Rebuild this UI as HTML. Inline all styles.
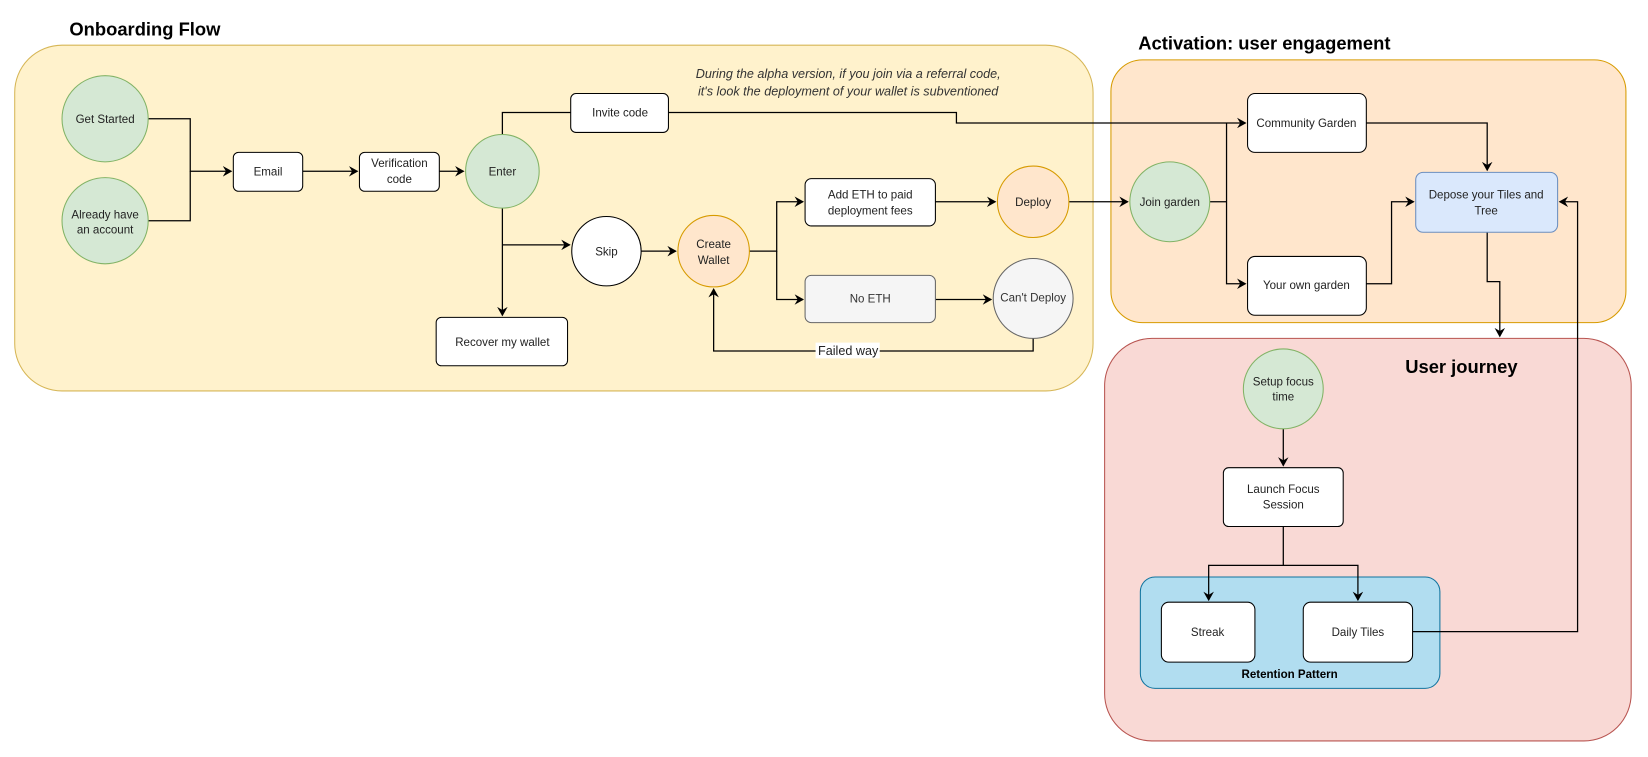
<!DOCTYPE html>
<html><head><meta charset="utf-8"><style>
html,body{margin:0;padding:0;background:#fff;}
svg{display:block;}
text{font-family:"Liberation Sans",Arial,sans-serif;font-size:11px;fill:#222;}
.t{font-size:17.5px;font-weight:bold;fill:#000;}
</style></head><body>
<svg width="1648" height="757" viewBox="0 0 1568 720.3" preserveAspectRatio="none" xmlns="http://www.w3.org/2000/svg">
<defs><marker id="a" markerWidth="10" markerHeight="10" refX="8" refY="5" orient="auto" markerUnits="userSpaceOnUse"><path d="M0,0 L9,5 L0,10 L3,5 Z" fill="#000"/></marker></defs>
<rect x="14" y="43" width="1026" height="329" rx="45" fill="#fff2cc" stroke="#d6b656"/>
<rect x="1057" y="57" width="490" height="250" rx="30" fill="#ffe6cc" stroke="#d79b00"/>
<rect x="1051" y="322" width="501" height="383" rx="45" fill="#f9d9d5" stroke="#b85450"/>
<rect x="1085" y="549" width="285" height="106" rx="14" fill="#b1ddf0" stroke="#10739e"/>
<text class="t" x="66" y="34">Onboarding Flow</text>
<text class="t" x="1083" y="47">Activation: user engagement</text>
<text class="t" x="1337" y="355">User journey</text>
<text x="1227" y="645" text-anchor="middle" style="font-weight:bold;fill:#000">Retention Pattern</text>
<text x="807" y="74" text-anchor="middle" font-style="italic" style="font-size:12px;fill:#333">During the alpha version, if you join via a referral code,</text>
<text x="807" y="91" text-anchor="middle" font-style="italic" style="font-size:12px;fill:#333">it's look the deployment of your wallet is subventioned</text>
<g fill="none" stroke="#000" stroke-width="1.2">
<path d="M141,113 H181 V163 H220" marker-end="url(#a)"/>
<path d="M141,210 H181 V163"/>
<path d="M288,163 H340" marker-end="url(#a)"/>
<path d="M418,163 H441" marker-end="url(#a)"/>
<path d="M478,128 V107 H543"/>
<path d="M636,107 H910 V117 H1185" marker-end="url(#a)"/>
<path d="M478,198 V300" marker-end="url(#a)"/>
<path d="M478,233 H542" marker-end="url(#a)"/>
<path d="M610,239 H643" marker-end="url(#a)"/>
<path d="M713,239 H739 V192 H764" marker-end="url(#a)"/>
<path d="M739,239 V285 H764" marker-end="url(#a)"/>
<path d="M890,192 H947" marker-end="url(#a)"/>
<path d="M890,285 H943" marker-end="url(#a)"/>
<path d="M983,321 V334 H679 V275" marker-end="url(#a)"/>
<path d="M1017,192 H1073" marker-end="url(#a)"/>
<path d="M1151,192 H1167"/>
<path d="M1167,117 V270 H1185" marker-end="url(#a)"/>
<path d="M1300,117 H1415 V162" marker-end="url(#a)"/>
<path d="M1300,270 H1324 V192 H1345" marker-end="url(#a)"/>
<path d="M1415,221 V268 H1427 V320" marker-end="url(#a)"/>
<path d="M1221,408 V443" marker-end="url(#a)"/>
<path d="M1221,501 V538 H1150 V571" marker-end="url(#a)"/>
<path d="M1221,538 H1292 V571" marker-end="url(#a)"/>
<path d="M1344,601 H1501 V192 H1484" marker-end="url(#a)"/>
</g>
<rect x="776" y="326" width="61" height="15" fill="#fff"/>
<text x="807" y="338" text-anchor="middle" style="font-size:12px">Failed way</text>
<g stroke-width="1">
<ellipse cx="100" cy="113" rx="41" ry="41" fill="#d5e8d4" stroke="#82b366"/>
<ellipse cx="100" cy="210" rx="41" ry="41" fill="#d5e8d4" stroke="#82b366"/>
<rect x="222" y="145" width="66" height="37" rx="5" fill="#fff" stroke="#000"/>
<rect x="342" y="145" width="76" height="37" rx="5" fill="#fff" stroke="#000"/>
<circle cx="478" cy="163" r="35" fill="#d5e8d4" stroke="#82b366"/>
<rect x="543" y="89" width="93" height="37" rx="5" fill="#fff" stroke="#000"/>
<circle cx="577" cy="239" r="33" fill="#fff" stroke="#000"/>
<rect x="415" y="302" width="125" height="46" rx="5" fill="#fff" stroke="#000"/>
<circle cx="679" cy="239" r="34" fill="#ffe6cc" stroke="#d79b00"/>
<rect x="766" y="170" width="124" height="45" rx="6" fill="#fff" stroke="#000"/>
<circle cx="983" cy="192" r="34" fill="#ffe6cc" stroke="#d79b00"/>
<rect x="766" y="262" width="124" height="45" rx="6" fill="#f5f5f5" stroke="#666"/>
<circle cx="983" cy="284" r="38" fill="#f5f5f5" stroke="#666"/>
<circle cx="1113" cy="192" r="38" fill="#d5e8d4" stroke="#82b366"/>
<rect x="1187" y="89" width="113" height="56" rx="7" fill="#fff" stroke="#000"/>
<rect x="1187" y="244" width="113" height="56" rx="7" fill="#fff" stroke="#000"/>
<rect x="1347" y="164" width="135" height="57" rx="7" fill="#dae8fc" stroke="#6c8ebf"/>
<circle cx="1221" cy="370" r="38" fill="#d5e8d4" stroke="#82b366"/>
<rect x="1164" y="445" width="114" height="56" rx="5" fill="#fff" stroke="#000"/>
<rect x="1105" y="573" width="89" height="57" rx="7" fill="#fff" stroke="#000"/>
<rect x="1240" y="573" width="104" height="57" rx="7" fill="#fff" stroke="#000"/>
</g>
<g text-anchor="middle">
<text x="100" y="117">Get Started</text>
<text x="100" y="208">Already have</text><text x="100" y="222">an account</text>
<text x="255" y="167">Email</text>
<text x="380" y="159">Verification</text><text x="380" y="174">code</text>
<text x="478" y="167">Enter</text>
<text x="590" y="111">Invite code</text>
<text x="577" y="243">Skip</text>
<text x="478" y="329">Recover my wallet</text>
<text x="679" y="236">Create</text><text x="679" y="251">Wallet</text>
<text x="828" y="189">Add ETH to paid</text><text x="828" y="204">deployment fees</text>
<text x="983" y="196">Deploy</text>
<text x="828" y="288" style="fill:#333">No ETH</text>
<text x="983" y="287" style="fill:#333">Can't Deploy</text>
<text x="1113" y="196">Join garden</text>
<text x="1243" y="121">Community Garden</text>
<text x="1243" y="275">Your own garden</text>
<text x="1414" y="189">Depose your Tiles and</text><text x="1414" y="204">Tree</text>
<text x="1221" y="367">Setup focus</text><text x="1221" y="381">time</text>
<text x="1221" y="469">Launch Focus</text><text x="1221" y="484">Session</text>
<text x="1149" y="605">Streak</text>
<text x="1292" y="605">Daily Tiles</text>
</g>
</svg>
</body></html>
